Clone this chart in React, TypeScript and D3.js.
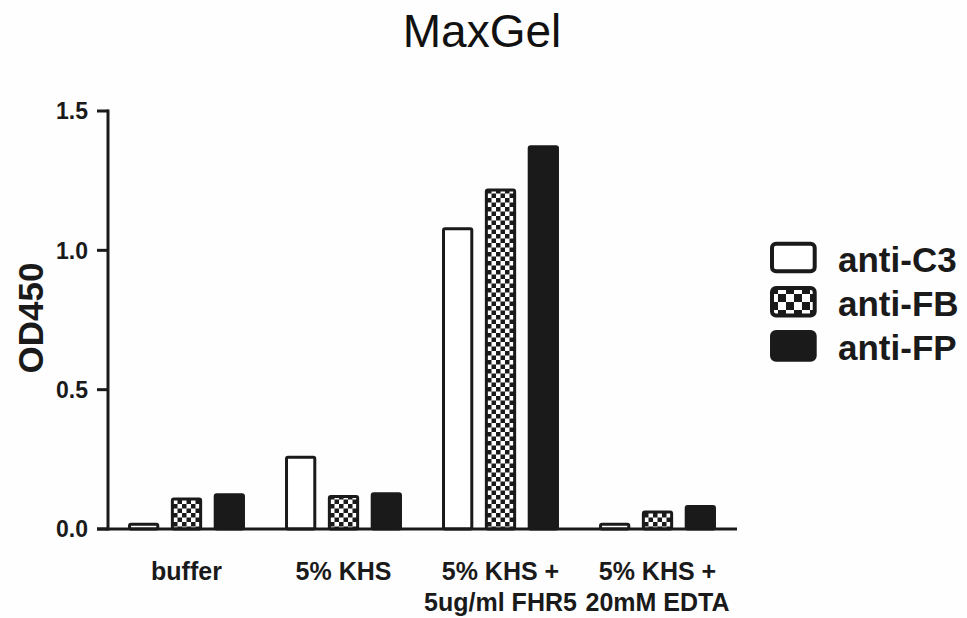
import React from "react";
import * as d3 from "d3";

const categories: string[][] = [
  ["buffer"],
  ["5% KHS"],
  ["5% KHS +", "5ug/ml FHR5"],
  ["5% KHS +", "20mM EDTA"],
];
const seriesNames = ["anti-C3", "anti-FB", "anti-FP"];
const antiC3 = [0.022, 0.263, 1.083, 0.022];
const antiFB = [0.113, 0.122, 1.222, 0.066];
const antiFP = [0.128, 0.132, 1.377, 0.086];
const yTicks = [0, 0.5, 1.0, 1.5];
const title = "MaxGel";
const yLabel = "OD450";

const W = 967;
const H = 618;
const INK = "#1a1a1a";
const FONT = "'Liberation Sans', Arial, Helvetica, sans-serif";

export default function App() {
  const values = [antiC3, antiFB, antiFP];
  const catKeys = categories.map((c) => c.join(" "));
  const x0 = d3
    .scaleBand<string>()
    .domain(catKeys)
    .range([108, 736])
    .paddingInner(0.255)
    .paddingOuter(0.1275);
  const x1 = d3
    .scaleBand<string>()
    .domain(seriesNames)
    .range([0, x0.bandwidth()])
    .paddingInner(0.27)
    .paddingOuter(0);
  const y = d3.scaleLinear().domain([0, 1.5]).range([529, 111]);

  const sw = 3;
  const fills = ["#ffffff", "url(#checkBar)", INK];
  const legendFills = ["#ffffff", "url(#checkLeg)", INK];

  return (
    <svg
      width={W}
      height={H}
      style={{ position: "absolute", left: 0, top: 0, background: "#fefefe" }}
      fontFamily={FONT}
    >
      <defs>
        <pattern id="checkBar" width={9} height={9} patternUnits="userSpaceOnUse">
          <rect width={9} height={9} fill="#ffffff" />
          <rect x={0} y={0} width={4.5} height={4.5} fill={INK} />
          <rect x={4.5} y={4.5} width={4.5} height={4.5} fill={INK} />
        </pattern>
        <pattern id="checkLeg" x={770} y={286} width={16} height={16} patternUnits="userSpaceOnUse">
          <rect width={16} height={16} fill="#ffffff" />
          <rect x={0} y={0} width={8} height={8} fill={INK} />
          <rect x={8} y={8} width={8} height={8} fill={INK} />
        </pattern>
      </defs>

      <text x={482} y={47} textAnchor="middle" fontSize={46} fill="#111">
        {title}
      </text>

      {/* bars */}
      {catKeys.map((k, ci) => (
        <g key={k} transform={`translate(${x0(k)},0)`}>
          {seriesNames.map((s, si) => {
            const v = values[si][ci];
            const bx = (x1(s) as number) + sw / 2;
            const bw = x1.bandwidth() - sw;
            const by = y(v) + sw / 2;
            const bh = Math.max(0.5, y(0) - by);
            return (
              <rect
                key={s}
                x={bx}
                y={by}
                width={bw}
                height={bh}
                rx={1.5}
                fill={fills[si]}
                stroke={INK}
                strokeWidth={sw}
              />
            );
          })}
        </g>
      ))}

      {/* y axis */}
      <line x1={108} x2={108} y1={y(1.5) - 1.5} y2={y(0) + 1.5} stroke={INK} strokeWidth={3} />
      {yTicks.map((t) => (
        <g key={t}>
          <line x1={97} x2={108} y1={y(t)} y2={y(t)} stroke={INK} strokeWidth={3} />
          <text
            x={88}
            y={y(t)}
            dy="0.36em"
            textAnchor="end"
            fontSize={23}
            fontWeight="bold"
            fill={INK}
          >
            {t.toFixed(1)}
          </text>
        </g>
      ))}
      {/* x axis */}
      <line x1={97} x2={737} y1={y(0)} y2={y(0)} stroke={INK} strokeWidth={3} />

      {/* x labels */}
      {categories.map((lines, ci) => (
        <text
          key={ci}
          x={(x0(catKeys[ci]) as number) + x0.bandwidth() / 2}
          y={580}
          textAnchor="middle"
          fontSize={25}
          fontWeight="bold"
          fill={INK}
        >
          {lines.map((l, li) => (
            <tspan key={li} x={(x0(catKeys[ci]) as number) + x0.bandwidth() / 2} dy={li === 0 ? 0 : 31}>
              {l}
            </tspan>
          ))}
        </text>
      ))}

      {/* y label */}
      <text
        transform="translate(43,318) rotate(-90)"
        textAnchor="middle"
        fontSize={35}
        fontWeight="bold"
        fill={INK}
      >
        {yLabel}
      </text>

      {/* legend */}
      {seriesNames.map((s, si) => (
        <g key={s}>
          <rect
            x={772}
            y={243.7 + si * 44.2}
            width={42.7}
            height={27.6}
            rx={4}
            fill={legendFills[si]}
            stroke={INK}
            strokeWidth={4}
          />
          <text x={838} y={271.7 + si * 44.2} fontSize={35} fontWeight="bold" fill={INK}>
            {s}
          </text>
        </g>
      ))}
    </svg>
  );
}
